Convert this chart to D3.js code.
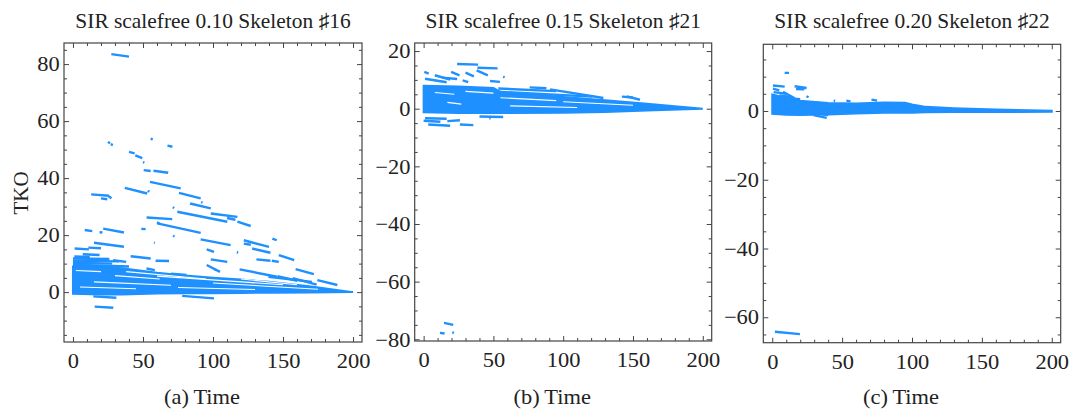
<!DOCTYPE html>
<html><head><meta charset="utf-8">
<script src="https://cdn.jsdelivr.net/npm/d3@7"></script>
<style>
html,body{margin:0;padding:0;background:#fff;}
svg{display:block;}
text{font-family:"Liberation Serif","Times New Roman",serif;fill:#222;}
</style></head>
<body><svg id="c" width="1083" height="411"></svg>
<script>
// ---------- data ----------
const titles = ["SIR scalefree 0.10 Skeleton \u266F16", "SIR scalefree 0.15 Skeleton \u266F21", "SIR scalefree 0.20 Skeleton \u266F22"];
const panelTags = ["(a)", "(b)", "(c)"];
const xLabel = "Time";
const yLabel = "TKO";
const xTicks = [0, 50, 100, 150, 200];
const yTicksA = [0, 20, 40, 60, 80];
const yTicksB = [-80, -60, -40, -20, 0, 20];
const yTicksC = [-60, -40, -20, 0];

// dense core bands: [time, lower TKO, upper TKO]
const coreA = [[0,-0.6,9.0],[20,-0.8,9.0],[35,-0.8,8.4],[60,-0.5,6.8],[80,-0.4,5.8],[100,-0.4,5.0],[120,-0.3,4.4],[140,-0.2,3.6],[170,-0.1,2.0],[200,0,0]];
const coreB = [[0,-1.2,8.0],[25,-1.5,7.7],[50,-1.5,7.2],[56,-1.5,5.6],[100,-1.4,4.1],[130,-1.1,2.9],[160,-0.6,1.7],[200,0,0]];
const coreC = [[0,-0.8,4.8],[10,-1.1,3.8],[20,-1.2,3.0],[40,-1.0,2.3],[60,-0.7,2.2],[80,-0.5,2.5],[95,-0.5,2.4],[100,-0.5,1.9],[110,-0.4,1.2],[130,-0.3,0.8],[160,-0.3,0.4],[200,-0.2,0.1]];

// empty streaks inside the dense cores: [t0, v0, t1, v1]
const gapsA = [[38,7.2,95,4.6],[60,5.6,150,2.6],[15,3.6,70,2.4],[100,3.2,175,1.0],[30,5.8,62,4.6],[120,4.6,160,2.6],[5,1.8,45,1.2],[75,1.6,130,0.9],[2,7.6,20,7.2]];
const gapsB = [[17,2.2,27,1.6],[8,5.6,22,5.0],[55,3.8,95,2.8],[30,6.0,50,5.4],[100,2.4,150,1.2],[62,1.0,110,0.4]];
const gapsC = [];

// trajectory segments: [t0, v0, t1, v1]
const segsA = [
 [27.4,83.5,40,82.6],[25,52.7,26.5,52.2],[27,51.9,28.5,51.6],[55.5,53.8,57,53.6],[67.5,51.4,71,51.0],
 [40,49.2,44,48.7],[44.5,48.0,49.5,47.0],[50,45.6,51,45.4],[50.5,42.8,55.5,42.5],[57.5,42.6,68,41.9],
 [55,38.7,76.9,36.4],[37,36.6,53,34.6],[53.5,35.6,54.5,35.2],[13,34.3,25.7,33.8],[20,32.9,24.5,32.6],[25.5,33.6,27.5,32.9],
 [75.7,34.8,91.2,32.9],[91.5,31.6,92.5,31.4],[83.6,31.1,98.4,29.4],[71.3,29.8,72.3,29.5],[74.5,28.2,110.2,24.7],
 [98.4,27.6,117.4,26.4],[110,26,116,25.4],[117.4,24.7,126.9,23.2],[52.6,26.2,70.9,25.6],[60.2,24.1,91.2,20.8],[60,24.5,62,24],
 [48.8,22.2,51.9,22.1],[21.6,22.3,36.4,20.9],[8.4,21.8,13.8,21.4],[19,21,21,20.9],[15,17.3,36.4,15.9],[57.9,17.4,58.5,17.3],
 [71.5,19.8,72.5,19.5],[91.2,18.5,112.6,16.5],[122,18.2,140,15.9],[122,17,127,16.6],[142.4,18.8,145.5,18.2],
 [95.5,15,100.7,14.1],[98.4,11.5,110.2,10.6],[117,14,118,13.9],[128,15.3,141,13.8],[131,11.5,141,11],[147,13,158,11.2],
 [142,11,147,10.6],[159,8.1,172,6.3],[174.5,4.2,188.8,2.5],[101,7.9,102,7.8],[41.2,12.6,55.5,11.8],[59,11,68.6,10.9],
 [15.5,-5.1,28.8,-5.5],[78,-1.3,100.7,-2.2],[14.5,-1.5,31,-2.0],[95.5,9.5,105,7.1],[119,8,145.6,5.4],[139.6,5.4,170.6,3.6],
 [146,5.6,160,4.0],[157,4.9,174,2.6],[52.5,8.3,58.5,7.7],[70,6.5,81,6.0],
 [0,11.8,26,11.6],[0,11.0,33,10.8],[0,10.3,28,10.0],[0,9.6,40,9.0],[28.6,11.2,38,10.6],
 [1.2,15.3,11.4,15.0],[11,15.6,20,15.4],[7,13.3,19,13.0],[1,12.5,12,12.3]
];
const segsB = [
 [24,15.5,39,15.3],[38.5,14.2,53,14.0],[0.5,12.8,3.6,12.2],[19.7,12.8,25.7,11.6],[38,13.3,46,11.6],[57,11.1,58,10.9],
 [47.6,9.6,54.7,9.3],[13.3,10.8,24,10.3],[1,10.4,16.5,9.2],[8,11.6,19,10.1],[28,9.8,32,9.2],[30,12.5,36,11.2],
 [53.5,7.0,95,6.1],[76,7.4,88,7.1],[90.6,6.7,128.8,3.7],[145.5,4.3,155,3.1],[142,4.2,150,3.9],[52.8,5.9,121,4.2],
 [1,-3.3,16.5,-3.5],[3.3,-5.5,19,-5.9],[26,-5.5,35.6,-5.7],[0,-4.2,12,-4.5],[17,-4.3,26,-4.0],[40,-2.7,57,-2.9],[47,-3.3,48,-3.3],
 [14.6,-74.3,21.2,-75],[11.7,-77.8,15,-78],[20.5,-77.6,21.7,-77.8]
];
const segsC = [
 [8.9,11.1,12,11.1],[0.5,7.4,8.9,7.1],[16,7.2,24.6,6.7],[17,6.4,23,6.3],[0.5,6.5,5,6.0],[1,5.5,10,5.0],[5,4.5,15,4.0],
 [12,3.7,20,3.4],[7.7,5.6,16,3.7],[24.5,4.3,26,4.0],[44,3.0,45,2.9],[53,3.0,56,2.8],[71,3.3,75,3.0],
 [29.5,-1.2,39,-2.0],[36,-1.0,40,-1.2],[1.9,-64.2,19.8,-64.9]
];

// ---------- layout ----------
const panels = [
 {x0:64, x1:362, y0:43, y1:342, ydom:[-17.5,87.4], yt:yTicksA, core:coreA, gaps:gapsA, segs:segsA},
 {x0:414.7, x1:711.7, y0:43, y1:341, ydom:[-80.6,22.8], yt:yTicksB, core:coreB, gaps:gapsB, segs:segsB},
 {x0:763.3, x1:1060.7, y0:44.3, y1:342.7, ydom:[-67.4,19.4], yt:yTicksC, core:coreC, gaps:gapsC, segs:segsC}
];
const color = "#1e90ff";
const svg = d3.select("#c");
const fs = 21;
const sx = 1.07;
const sxTitle = 1.02;

panels.forEach((p, i) => {
  const x = d3.scaleLinear().domain([-6.4, 206.4]).range([p.x0, p.x1]);
  const y = d3.scaleLinear().domain(p.ydom).range([p.y1, p.y0]);
  const g = svg.append("g");
  const cid = "clip" + i;
  g.append("clipPath").attr("id", cid).append("rect")
    .attr("x", p.x0).attr("y", p.y0).attr("width", p.x1 - p.x0).attr("height", p.y1 - p.y0);
  const plot = g.append("g").attr("clip-path", `url(#${cid})`);

  plot.append("path").datum(p.core)
    .attr("d", d3.area().x(d => x(d[0])).y0(d => y(d[1])).y1(d => y(d[2])))
    .attr("fill", color).attr("stroke", color).attr("stroke-width", 2);

  plot.selectAll("line.gap").data(p.gaps).join("line").attr("class", "gap")
    .attr("x1", d => x(d[0])).attr("y1", d => y(d[1]))
    .attr("x2", d => x(d[2])).attr("y2", d => y(d[3]))
    .attr("stroke", "#fff").attr("stroke-width", 1.1);

  plot.selectAll("line.seg").data(p.segs).join("line").attr("class", "seg")
    .attr("x1", d => x(d[0])).attr("y1", d => y(d[1]))
    .attr("x2", d => x(d[2])).attr("y2", d => y(d[3]))
    .attr("stroke", color).attr("stroke-width", 2.4);

  const minorX = d3.range(0, 201, 10).filter(v => v % 50 !== 0);
  const [ya, yb] = p.ydom;
  const minorY = d3.range(Math.ceil(ya / 5) * 5, yb, 5).filter(v => v % 20 !== 0);
  const majorYall = d3.range(Math.ceil(ya / 20) * 20, yb, 20);

  const style = sel => {
    sel.select(".domain").remove();
    sel.selectAll("line").attr("stroke", "#444").attr("stroke-width", 1);
    sel.selectAll("text").attr("font-size", fs).attr("font-family", "Liberation Serif, serif")
      .attr("fill", "#222").attr("transform", `scale(${sx},1)`);
  };
  g.append("g").attr("transform", `translate(0,${p.y1})`)
    .call(d3.axisBottom(x).tickValues(xTicks).tickSize(-5).tickPadding(11).tickFormat(d3.format("d"))).call(style);
  g.append("g").attr("transform", `translate(0,${p.y1})`)
    .call(d3.axisBottom(x).tickValues(minorX).tickSize(-3).tickFormat("")).call(style);
  g.append("g").attr("transform", `translate(0,${p.y0})`)
    .call(d3.axisTop(x).tickValues(xTicks).tickSize(-5).tickFormat("")).call(style);
  g.append("g").attr("transform", `translate(0,${p.y0})`)
    .call(d3.axisTop(x).tickValues(minorX).tickSize(-3).tickFormat("")).call(style);

  g.append("g").attr("transform", `translate(${p.x0},0)`)
    .call(d3.axisLeft(y).tickValues(majorYall).tickSize(-5).tickPadding(4)
      .tickFormat(v => p.yt.includes(v) ? d3.format("d")(v) : "")).call(style);
  g.append("g").attr("transform", `translate(${p.x0},0)`)
    .call(d3.axisLeft(y).tickValues(minorY).tickSize(-3).tickFormat("")).call(style);
  g.append("g").attr("transform", `translate(${p.x1},0)`)
    .call(d3.axisRight(y).tickValues(majorYall).tickSize(-5).tickFormat("")).call(style);
  g.append("g").attr("transform", `translate(${p.x1},0)`)
    .call(d3.axisRight(y).tickValues(minorY).tickSize(-3).tickFormat("")).call(style);

  g.append("rect").attr("x", p.x0).attr("y", p.y0).attr("width", p.x1 - p.x0).attr("height", p.y1 - p.y0)
    .attr("fill", "none").attr("stroke", "#444").attr("stroke-width", 1.2);

  const cx = (p.x0 + p.x1) / 2;
  g.append("text").attr("transform", `translate(${cx},28) scale(${sxTitle},1)`)
    .attr("text-anchor", "middle").attr("font-size", fs).text(titles[i]);
  g.append("text").attr("transform", `translate(${cx - 11},404) scale(${sx},1)`)
    .attr("text-anchor", "middle").attr("font-size", fs)
    .text(panelTags[i] + "\u2009" + xLabel);
});

svg.append("text").attr("transform", "translate(28,193) rotate(-90)")
  .attr("text-anchor", "middle").attr("font-size", fs).text(yLabel);
</script></body></html>
